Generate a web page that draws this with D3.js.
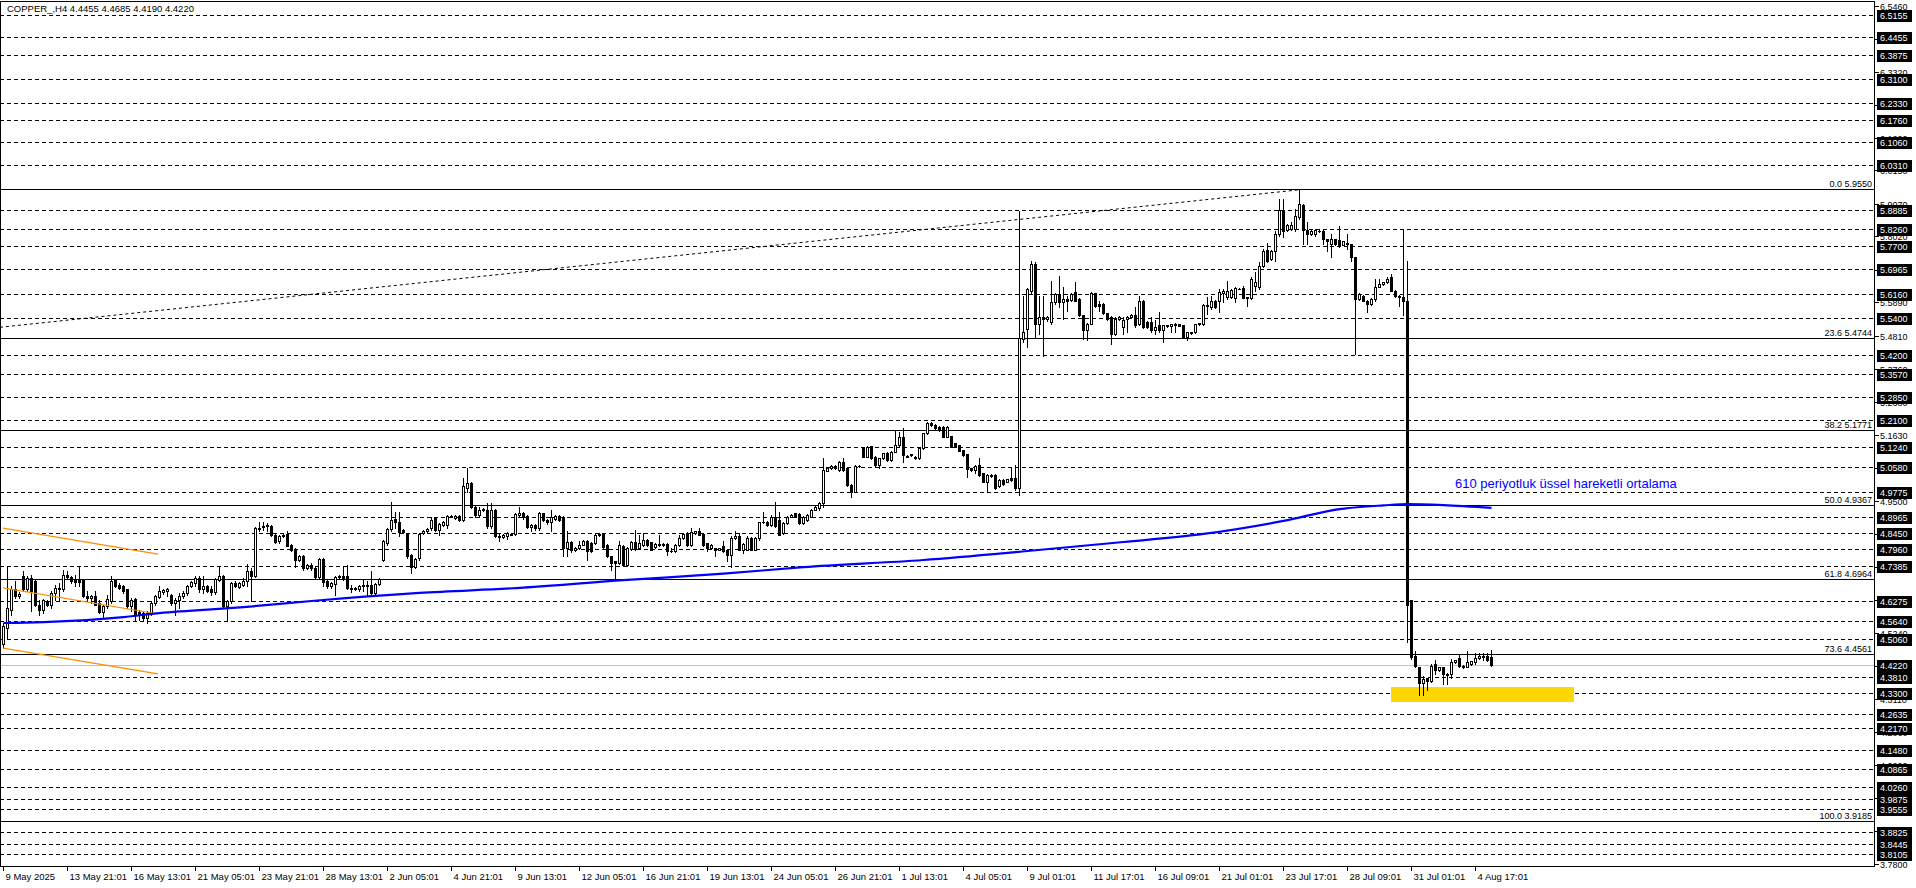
<!DOCTYPE html>
<html><head><meta charset="utf-8">
<script src="https://cdn.jsdelivr.net/npm/d3@7"></script>
<style>html,body{margin:0;padding:0;background:#fff;overflow:hidden}svg{display:block}</style>
</head><body>
<svg id="c" width="1916" height="888"></svg>
<script>
// ---------- DATA ----------
const title = "COPPER_,H4  4.4455 4.4685 4.4190 4.4220";
const opens = [4.487,4.540,4.599,4.664,4.642,4.706,4.664,4.701,4.690,4.615,4.599,4.626,4.615,4.653,4.664,4.664,4.712,4.704,4.696,4.693,
4.696,4.642,4.637,4.642,4.621,4.591,4.610,4.626,4.693,4.680,4.674,4.664,4.610,4.634,4.591,4.589,4.573,4.586,4.621,4.640,
4.655,4.658,4.647,4.619,4.631,4.642,4.653,4.674,4.685,4.701,4.664,4.676,4.666,4.655,4.696,4.708,4.610,4.626,4.685,4.672,
4.680,4.690,4.722,4.706,4.862,4.865,4.869,4.869,4.840,4.819,4.837,4.843,4.808,4.792,4.760,4.771,4.733,4.743,4.733,4.704,
4.762,4.690,4.674,4.683,4.704,4.706,4.706,4.669,4.666,4.664,4.674,4.680,4.680,4.653,4.683,4.760,4.813,4.858,4.891,4.880,
4.856,4.843,4.776,4.738,4.765,4.846,4.851,4.862,4.894,4.856,4.872,4.872,4.899,4.894,4.901,4.888,4.990,5.006,4.931,4.904,
4.921,4.921,4.867,4.921,4.837,4.833,4.835,4.843,4.843,4.904,4.910,4.901,4.865,4.872,4.862,4.910,4.888,4.880,4.891,4.901,
4.899,4.797,4.816,4.790,4.797,4.808,4.819,4.813,4.813,4.839,4.843,4.808,4.771,4.755,4.749,4.803,4.744,4.794,4.816,4.797,
4.808,4.824,4.816,4.801,4.811,4.807,4.811,4.787,4.787,4.808,4.830,4.846,4.808,4.846,4.851,4.843,4.813,4.797,4.797,4.792,
4.803,4.792,4.776,4.830,4.835,4.792,4.792,4.830,4.792,4.830,4.883,4.883,4.872,4.899,4.888,4.846,4.878,4.899,4.910,4.908,
4.878,4.888,4.899,4.921,4.926,4.942,5.047,5.054,5.062,5.049,5.076,5.054,5.001,4.979,5.062,5.122,5.092,5.126,5.092,5.065,
5.087,5.105,5.081,5.108,5.129,5.156,5.094,5.097,5.092,5.087,5.119,5.167,5.201,5.194,5.188,5.188,5.156,5.158,5.135,5.129,
5.113,5.100,5.054,5.049,5.065,5.038,5.012,5.030,5.033,4.996,5.017,5.012,5.022,5.022,4.990,5.472,5.504,5.627,5.713,5.520,
5.542,5.536,5.526,5.590,5.617,5.590,5.600,5.597,5.622,5.600,5.547,5.499,5.520,5.619,5.584,5.584,5.554,5.542,5.488,5.536,
5.509,5.536,5.542,5.547,5.520,5.595,5.526,5.526,5.499,5.515,5.499,5.515,5.514,5.515,5.518,5.515,5.477,5.493,5.493,5.518,
5.518,5.576,5.574,5.595,5.595,5.619,5.608,5.606,5.604,5.633,5.636,5.606,5.604,5.643,5.638,5.708,5.758,5.729,5.756,5.809,
5.886,5.822,5.825,5.825,5.863,5.904,5.822,5.809,5.809,5.820,5.818,5.793,5.779,5.793,5.790,5.775,5.782,5.777,5.734,5.600,
5.611,5.595,5.584,5.600,5.640,5.647,5.654,5.670,5.627,5.611,5.606,5.595,4.630,4.449,4.413,4.363,4.378,4.369,4.424,4.404,
4.413,4.391,4.391,4.430,4.443,4.419,4.415,4.424,4.430,4.443,4.449,4.449,4.4455];
const highs = [4.556,4.738,4.674,4.690,4.655,4.722,4.706,4.712,4.696,4.631,4.634,4.631,4.658,4.680,4.685,4.728,4.722,4.708,4.712,4.735,
4.698,4.658,4.647,4.658,4.631,4.615,4.647,4.706,4.698,4.685,4.680,4.666,4.637,4.637,4.599,4.594,4.594,4.626,4.647,4.674,
4.664,4.669,4.651,4.637,4.653,4.658,4.680,4.690,4.706,4.708,4.706,4.680,4.674,4.701,4.738,4.712,4.631,4.688,4.690,4.687,
4.701,4.747,4.733,4.865,4.883,4.883,4.878,4.872,4.843,4.840,4.843,4.851,4.810,4.797,4.776,4.774,4.745,4.749,4.736,4.765,
4.765,4.693,4.687,4.706,4.710,4.738,4.744,4.678,4.672,4.678,4.696,4.690,4.722,4.685,4.701,4.824,4.862,4.947,4.915,4.915,
4.858,4.846,4.779,4.765,4.846,4.856,4.862,4.899,4.899,4.878,4.886,4.904,4.904,4.904,4.904,5.022,5.054,5.012,4.935,4.931,
4.926,4.942,4.942,4.924,4.846,4.843,4.848,4.846,4.910,4.931,4.915,4.904,4.874,4.874,4.915,4.912,4.891,4.921,4.904,4.903,
4.901,4.851,4.819,4.800,4.819,4.822,4.822,4.816,4.843,4.846,4.845,4.810,4.773,4.757,4.819,4.806,4.800,4.819,4.856,4.840,
4.846,4.827,4.818,4.813,4.840,4.813,4.813,4.797,4.810,4.840,4.845,4.848,4.862,4.853,4.862,4.845,4.815,4.810,4.799,4.799,
4.819,4.794,4.835,4.851,4.846,4.813,4.835,4.832,4.832,4.883,4.915,4.885,4.904,4.947,4.915,4.880,4.901,4.906,4.912,4.910,
4.901,4.906,4.923,4.933,4.947,5.087,5.056,5.064,5.064,5.078,5.087,5.056,5.003,5.064,5.066,5.124,5.126,5.128,5.094,5.089,
5.105,5.107,5.110,5.178,5.172,5.183,5.096,5.102,5.094,5.121,5.169,5.203,5.205,5.196,5.190,5.190,5.190,5.160,5.137,5.131,
5.115,5.102,5.056,5.064,5.087,5.040,5.035,5.035,5.035,5.019,5.019,5.021,5.054,5.064,5.884,5.611,5.636,5.724,5.718,5.611,
5.611,5.545,5.659,5.619,5.675,5.638,5.611,5.619,5.654,5.602,5.549,5.522,5.622,5.621,5.595,5.586,5.556,5.544,5.542,5.544,
5.542,5.544,5.551,5.574,5.611,5.597,5.528,5.542,5.531,5.558,5.517,5.517,5.520,5.522,5.520,5.517,5.495,5.495,5.520,5.524,
5.584,5.606,5.611,5.597,5.633,5.633,5.659,5.631,5.638,5.636,5.643,5.608,5.670,5.686,5.718,5.761,5.782,5.758,5.820,5.922,
5.922,5.841,5.847,5.890,5.955,5.906,5.847,5.822,5.825,5.822,5.825,5.795,5.809,5.795,5.836,5.788,5.809,5.779,5.736,5.619,
5.613,5.597,5.602,5.665,5.665,5.656,5.670,5.681,5.629,5.613,5.822,5.724,4.630,4.467,4.415,4.386,4.380,4.424,4.436,4.415,
4.415,4.395,4.441,4.438,4.452,4.421,4.467,4.434,4.458,4.460,4.458,4.458,4.4685];
const lows = [4.476,4.508,4.583,4.637,4.637,4.660,4.658,4.594,4.610,4.583,4.589,4.610,4.605,4.631,4.631,4.658,4.701,4.685,4.674,4.674,
4.640,4.626,4.621,4.615,4.589,4.573,4.605,4.621,4.672,4.664,4.653,4.605,4.594,4.562,4.567,4.567,4.556,4.583,4.615,4.637,
4.651,4.642,4.615,4.583,4.605,4.637,4.647,4.672,4.674,4.655,4.653,4.655,4.647,4.651,4.690,4.605,4.567,4.621,4.672,4.669,
4.674,4.674,4.626,4.704,4.851,4.856,4.851,4.837,4.813,4.813,4.832,4.803,4.788,4.738,4.755,4.728,4.730,4.728,4.700,4.701,
4.674,4.670,4.670,4.647,4.700,4.696,4.666,4.655,4.662,4.660,4.658,4.644,4.651,4.651,4.680,4.755,4.808,4.851,4.862,4.835,
4.845,4.765,4.717,4.733,4.760,4.843,4.848,4.856,4.851,4.840,4.870,4.862,4.897,4.890,4.886,4.886,4.979,4.926,4.899,4.899,
4.918,4.862,4.862,4.833,4.819,4.830,4.827,4.838,4.840,4.901,4.890,4.862,4.851,4.856,4.856,4.885,4.876,4.854,4.888,4.885,
4.771,4.771,4.786,4.787,4.795,4.806,4.760,4.784,4.811,4.836,4.797,4.768,4.728,4.701,4.746,4.741,4.741,4.790,4.790,4.795,
4.805,4.805,4.790,4.799,4.805,4.805,4.776,4.784,4.785,4.805,4.828,4.805,4.803,4.844,4.838,4.805,4.787,4.795,4.771,4.790,
4.785,4.755,4.738,4.828,4.790,4.781,4.790,4.790,4.790,4.824,4.878,4.870,4.867,4.865,4.838,4.843,4.876,4.897,4.897,4.876,
4.875,4.885,4.897,4.919,4.921,4.931,5.045,5.052,5.052,5.047,5.047,4.998,4.963,4.977,5.058,5.090,5.090,5.085,5.062,5.054,
5.085,5.079,5.079,5.106,5.127,5.076,5.090,5.094,5.085,5.085,5.117,5.165,5.192,5.181,5.176,5.154,5.154,5.122,5.122,5.109,
5.095,5.028,5.047,5.038,5.031,5.010,4.979,5.028,4.988,4.994,5.002,5.010,5.015,4.985,4.969,5.461,5.445,5.617,5.477,5.488,
5.418,5.530,5.520,5.584,5.574,5.536,5.563,5.595,5.593,5.545,5.472,5.467,5.518,5.574,5.563,5.552,5.534,5.456,5.483,5.534,
5.488,5.493,5.540,5.509,5.515,5.507,5.507,5.493,5.488,5.493,5.461,5.511,5.493,5.493,5.512,5.475,5.467,5.488,5.490,5.516,
5.515,5.552,5.568,5.572,5.558,5.590,5.600,5.604,5.590,5.631,5.602,5.576,5.600,5.627,5.633,5.704,5.718,5.727,5.724,5.804,
5.799,5.820,5.822,5.820,5.857,5.777,5.777,5.807,5.804,5.816,5.777,5.756,5.734,5.775,5.768,5.773,5.761,5.724,5.424,5.598,
5.593,5.558,5.582,5.595,5.638,5.645,5.652,5.625,5.606,5.579,5.547,4.496,4.441,4.413,4.324,4.324,4.341,4.367,4.391,4.402,
4.358,4.358,4.380,4.428,4.413,4.411,4.413,4.422,4.424,4.441,4.436,4.433,4.419];
const closes = [4.546,4.605,4.664,4.642,4.651,4.664,4.701,4.658,4.615,4.599,4.631,4.615,4.653,4.669,4.669,4.712,4.704,4.690,4.687,4.687,
4.642,4.637,4.644,4.615,4.591,4.610,4.634,4.690,4.674,4.669,4.658,4.610,4.631,4.583,4.583,4.573,4.589,4.621,4.642,4.658,
4.661,4.664,4.619,4.631,4.642,4.653,4.674,4.687,4.701,4.664,4.676,4.658,4.655,4.698,4.706,4.610,4.626,4.685,4.674,4.685,
4.690,4.722,4.706,4.862,4.858,4.869,4.872,4.840,4.816,4.837,4.840,4.805,4.792,4.758,4.773,4.733,4.743,4.733,4.704,4.762,
4.687,4.674,4.685,4.704,4.706,4.698,4.669,4.666,4.669,4.674,4.680,4.674,4.653,4.683,4.698,4.819,4.858,4.888,4.880,4.848,
4.848,4.771,4.738,4.762,4.843,4.854,4.858,4.888,4.856,4.876,4.883,4.901,4.901,4.901,4.888,4.996,5.006,4.931,4.904,4.921,
4.924,4.867,4.921,4.835,4.833,4.840,4.846,4.840,4.908,4.910,4.897,4.865,4.872,4.862,4.912,4.888,4.880,4.899,4.901,4.888,
4.797,4.816,4.790,4.797,4.808,4.819,4.787,4.787,4.840,4.843,4.801,4.771,4.749,4.749,4.808,4.744,4.797,4.816,4.794,4.813,
4.824,4.808,4.792,4.811,4.807,4.811,4.787,4.787,4.808,4.830,4.843,4.808,4.848,4.851,4.840,4.808,4.797,4.808,4.792,4.797,
4.787,4.776,4.830,4.835,4.792,4.811,4.830,4.792,4.830,4.880,4.880,4.872,4.897,4.867,4.840,4.878,4.899,4.904,4.899,4.878,
4.899,4.904,4.921,4.931,4.942,5.049,5.054,5.062,5.054,5.076,5.049,5.001,4.979,5.062,5.062,5.092,5.124,5.087,5.065,5.087,
5.103,5.081,5.108,5.129,5.156,5.097,5.092,5.100,5.087,5.119,5.167,5.201,5.194,5.183,5.178,5.156,5.188,5.124,5.124,5.111,
5.097,5.051,5.049,5.062,5.033,5.012,5.033,5.033,4.990,5.017,5.004,5.019,5.017,4.990,5.473,5.493,5.633,5.713,5.520,5.542,
5.536,5.542,5.590,5.617,5.590,5.600,5.595,5.617,5.595,5.547,5.499,5.520,5.619,5.576,5.576,5.554,5.536,5.488,5.536,5.542,
5.533,5.542,5.549,5.515,5.595,5.509,5.509,5.499,5.509,5.499,5.515,5.513,5.518,5.520,5.514,5.477,5.493,5.490,5.518,5.522,
5.582,5.582,5.595,5.574,5.622,5.627,5.627,5.629,5.636,5.633,5.604,5.604,5.665,5.654,5.708,5.756,5.724,5.756,5.809,5.886,
5.820,5.839,5.839,5.868,5.906,5.822,5.809,5.820,5.822,5.818,5.793,5.788,5.793,5.777,5.775,5.786,5.777,5.734,5.600,5.617,
5.595,5.584,5.600,5.640,5.647,5.654,5.665,5.627,5.611,5.606,5.595,4.613,4.447,4.419,4.363,4.374,4.369,4.419,4.404,4.413,
4.391,4.390,4.430,4.436,4.419,4.413,4.430,4.432,4.443,4.449,4.447,4.438,4.422];

const xTickBars = [0,16,32,48,64,80,96,112,128,144,160,176,192,208,224,240,256,272,288,304,320,336,352,368];
const xTickLabels = ["9 May 2025","13 May 21:01","16 May 13:01","21 May 05:01","23 May 21:01","28 May 13:01","2 Jun 05:01","4 Jun 21:01","9 Jun 13:01","12 Jun 05:01","16 Jun 21:01","19 Jun 13:01","24 Jun 05:01","26 Jun 21:01","1 Jul 13:01","4 Jul 05:01","9 Jul 01:01","11 Jul 17:01","16 Jul 09:01","21 Jul 01:01","23 Jul 17:01","28 Jul 09:01","31 Jul 01:01","4 Aug 17:01"];
// price grid ticks of the right scale (all), and the labels that stay visible beside the line boxes
const priceTickValues = [6.5460,6.4390,6.3320,6.2260,6.1200,6.0150,5.9070,5.8020,5.6950,5.5890,5.4810,5.3760,5.2680,5.1630,5.0570,4.9500,4.8440,4.7370,4.6310,4.5240,4.4180,4.3110,4.2060,4.0990,3.9930,3.8860,3.7800];
const priceTickLabels = ["6.5460","6.3320","6.1200","6.0150","5.9070","5.8020","5.5890","5.4810","5.3760","5.2680","5.1630","4.9500","4.5240","4.3110","4.2060","4.0990","3.7800"];
const levelValues = [6.5155,6.4455,6.3875,6.3100,6.2330,6.1760,6.1060,6.0310,5.8885,5.8260,5.7700,5.6965,5.6160,5.5400,5.4200,5.3570,5.2850,5.2100,5.1240,5.0580,4.9775,4.8965,4.8450,4.7960,4.7385,4.6275,4.5640,4.5060,4.3810,4.3300,4.2635,4.2170,4.1480,4.0865,4.0260,3.9875,3.9555,3.8825,3.8445,3.8105];
const fibPercents = ["0.0","23.6","38.2","50.0","61.8","73.6","100.0"];
const fibValues = [5.9550,5.4744,5.1771,4.9367,4.6964,4.4561,3.9185];
const bidPrice = 4.4220;
const emaBars = [0,10,30,39,60,77,104,130,155,180,200,230,256,280,300,320,334,345,351,360,372];
const emaValues = [4.556,4.559,4.575,4.588,4.607,4.627,4.653,4.670,4.694,4.715,4.736,4.759,4.788,4.817,4.843,4.885,4.923,4.935,4.939,4.936,4.927];
const emaText = "610 periyotluk üssel hareketli ortalama";
const orangeStartBar = [0,0,0], orangeEndBar = [38.75,38.75,38.75];
const orangeStartVal = [4.862,4.669,4.475], orangeEndVal = [4.778,4.585,4.392];
const trendBars = [-0.75,324], trendVals = [5.509,5.952];
const zoneBars = [347,392.75], zoneVals = [4.350,4.303];

// ---------- LAYOUT ----------
const plotRight = 1874, plotBottom = 866;
const svg = d3.select("#c");
const x = d3.scaleLinear().domain([0,372]).range([3,1491]);
const y = d3.scaleLinear().domain([3.78,6.546]).range([863.8,5.5]);
const FONT = "'Liberation Sans', Arial, sans-serif";
const ry = v => Math.round(y(v));

svg.append("rect").attr("width",1916).attr("height",888).attr("fill","#fff");
const plot = svg.append("g").attr("shape-rendering","crispEdges");

plot.selectAll("line.lvl").data(levelValues).join("line").attr("class","lvl")
  .attr("x1",0).attr("x2",plotRight).attr("y1",d=>ry(d)+0.5).attr("y2",d=>ry(d)+0.5)
  .attr("stroke","#000").attr("stroke-width",1).attr("stroke-dasharray","4,3");
plot.selectAll("line.fib").data(fibValues).join("line").attr("class","fib")
  .attr("x1",0).attr("x2",plotRight).attr("y1",d=>ry(d)+0.5).attr("y2",d=>ry(d)+0.5)
  .attr("stroke","#000").attr("stroke-width",1);
plot.append("line").attr("x1",0).attr("x2",plotRight).attr("y1",ry(bidPrice)+0.5).attr("y2",ry(bidPrice)+0.5)
  .attr("stroke","#c0c0c0");
plot.append("rect").attr("x",x(zoneBars[0])).attr("width",x(zoneBars[1])-x(zoneBars[0]))
  .attr("y",y(zoneVals[0])).attr("height",y(zoneVals[1])-y(zoneVals[0])).attr("fill","#ffd700");
d3.range(orangeStartBar.length).forEach(k=>{
  svg.append("line").attr("x1",x(orangeStartBar[k])).attr("x2",x(orangeEndBar[k]))
    .attr("y1",y(orangeStartVal[k])).attr("y2",y(orangeEndVal[k]))
    .attr("stroke","#ff8c00").attr("stroke-width",1.2);
});
svg.append("line").attr("x1",x(trendBars[0])).attr("x2",x(trendBars[1]))
  .attr("y1",y(trendVals[0])).attr("y2",y(trendVals[1]))
  .attr("stroke","#000").attr("stroke-width",1).attr("stroke-dasharray","3,3");

const cg = plot.append("g");
opens.forEach((o,i)=>{
  const h=highs[i], l=lows[i], c=closes[i];
  const X = Math.round(x(i));
  const yh = ry(h), yl = ry(l);
  cg.append("rect").attr("x",X).attr("y",yh).attr("width",1).attr("height",Math.max(1,yl-yh+1)).attr("fill","#000");
  const top = ry(Math.max(o,c)), bot = ry(Math.min(o,c));
  cg.append("rect").attr("x",X-1).attr("y",top).attr("width",3).attr("height",bot-top+1).attr("fill","#000");
  if (c>o && bot-top>=2) {
    cg.append("rect").attr("x",X).attr("y",top+1).attr("width",1).attr("height",bot-top-1).attr("fill","#fff");
  }
});

svg.append("path").datum(emaBars.map((b,k)=>[b,emaValues[k]]))
  .attr("d",d3.line().x(d=>x(d[0])+0.5).y(d=>y(d[1])).curve(d3.curveMonotoneX))
  .attr("fill","none").attr("stroke","#0000ff").attr("stroke-width",2.2);
svg.append("text").attr("x",1455).attr("y",488).attr("fill","#0000ff")
  .attr("font-family",FONT).attr("font-size","13px").text(emaText);

svg.selectAll("text.fibl").data(fibValues).join("text").attr("class","fibl")
  .attr("x",plotRight-2).attr("y",d=>ry(d)-2).attr("text-anchor","end")
  .attr("font-family",FONT).attr("font-size","9px").attr("fill","#000")
  .text((d,k)=>fibPercents[k]+" "+d.toFixed(4));

svg.append("text").attr("x",7).attr("y",12).attr("font-family",FONT).attr("font-size","9.5px").attr("fill","#000").text(title);

plot.append("rect").attr("x",0.5).attr("y",1.5).attr("width",plotRight).attr("height",plotBottom-1)
  .attr("fill","none").attr("stroke","#000");

const ax = svg.append("g");
priceTickValues.forEach(v=>{
  const yy=ry(v)+0.5;
  ax.append("line").attr("x1",plotRight+1).attr("x2",plotRight+5).attr("y1",yy).attr("y2",yy).attr("stroke","#000").attr("shape-rendering","crispEdges");
});
priceTickLabels.forEach(s=>{
  const yy=ry(+s)+0.5;
  ax.append("text").attr("x",1880).attr("y",yy).attr("dy","0.36em").attr("font-family",FONT).attr("font-size","9px").attr("fill","#000").text(s);
});
levelValues.concat([bidPrice]).forEach(v=>{
  const yy=ry(v)+0.5;
  ax.append("rect").attr("x",1877).attr("y",Math.round(yy-6)).attr("width",35).attr("height",12).attr("fill","#000").attr("shape-rendering","crispEdges");
  ax.append("text").attr("x",1880).attr("y",yy).attr("dy","0.36em").attr("font-family",FONT).attr("font-size","9px").attr("fill","#fff").text(v.toFixed(4));
});

xTickBars.forEach((b,k)=>{
  const X=Math.round(x(b))+0.5;
  ax.append("line").attr("x1",X).attr("x2",X).attr("y1",plotBottom+1).attr("y2",plotBottom+5).attr("stroke","#000").attr("shape-rendering","crispEdges");
  ax.append("text").attr("x",X+2).attr("y",880).attr("font-family",FONT).attr("font-size","9.5px").attr("fill","#000").text(xTickLabels[k]);
});
</script>
</body></html>
